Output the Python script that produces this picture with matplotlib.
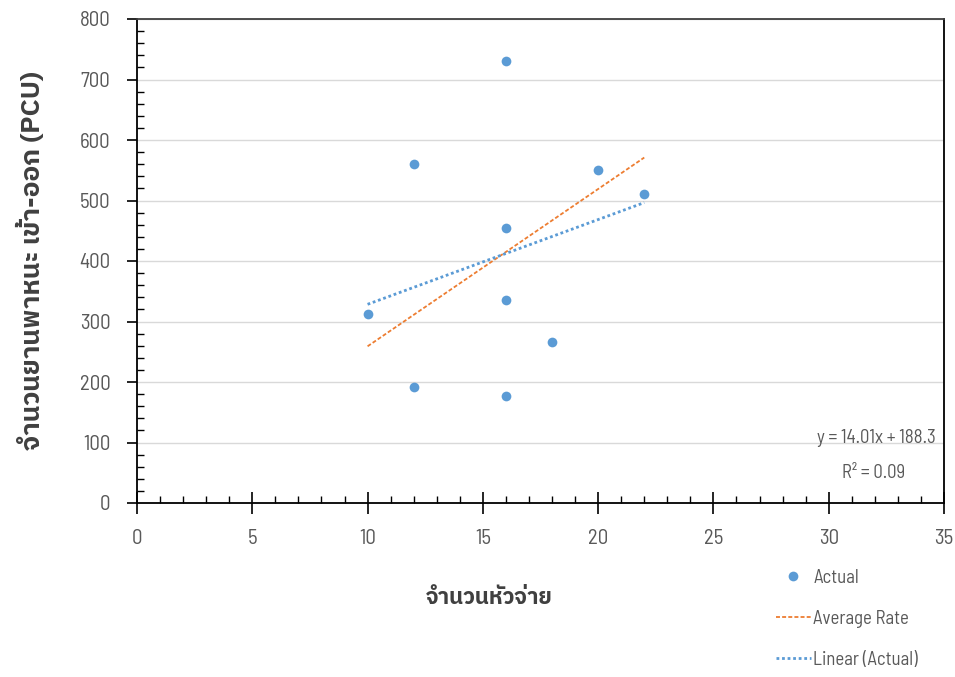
import matplotlib
matplotlib.use('Agg')
import matplotlib.pyplot as plt
from matplotlib.ticker import MultipleLocator

# number of dispensers vs vehicles in/out (PCU)
dispensers = [10, 12, 12, 16, 16, 16, 16, 18, 20, 22]
vehicles_pcu = [313, 561, 191, 731, 454, 335, 177, 266, 551, 510]

# end points of the two fitted lines
avg_rate_x = [10, 22]
avg_rate_y = [259, 571]
trend_x = [10, 22]
trend_y = [328.4, 496.5]

equation = 'y = 14.01x + 188.3'
r_squared = 'R² = 0.09'

x_label = 'จำนวนหัวจ่าย'
y_label = 'จำนวนยานพาหนะ เข้า-ออก (PCU)'

thai = ['IBM Plex Sans Thai', 'Noto Sans Thai', 'DejaVu Sans']
narrow = ['Barlow Semi Condensed', 'Noto Sans', 'DejaVu Sans']
plt.rcParams['font.family'] = narrow

blue = '#5B9BD5'
orange = '#ED7D31'
text_grey = '#595959'

fig = plt.figure(figsize=(9.55, 6.77), dpi=100)
ax = fig.add_axes([137 / 955, 1 - 503 / 677, (944 - 137) / 955, (503 - 19) / 677])

ax.yaxis.grid(True, color='#d9d9d9', linewidth=1.0)
ax.set_axisbelow(True)

pts, = ax.plot(dispensers, vehicles_pcu, 'o', color=blue, markersize=7,
               markeredgewidth=0, label='Actual', zorder=3)
avg, = ax.plot(avg_rate_x, avg_rate_y, linestyle=(0, (2.2, 1.2)), color=orange,
               linewidth=1.3, label='Average Rate', zorder=2)
lin, = ax.plot(trend_x, trend_y, linestyle=(0, (1, 1)), color=blue,
               linewidth=2.0, label='Linear (Actual)', zorder=2)

ax.set_xlim(0, 35)
ax.set_ylim(0, 800)
ax.xaxis.set_major_locator(MultipleLocator(5))
ax.xaxis.set_minor_locator(MultipleLocator(1))
ax.yaxis.set_major_locator(MultipleLocator(100))
ax.yaxis.set_minor_locator(MultipleLocator(20))

ax.tick_params(axis='x', which='major', direction='inout', length=16, width=1.2,
               labelsize=15, pad=11, color='black', labelcolor=text_grey)
ax.tick_params(axis='x', which='minor', direction='in', length=5, width=1.0)
ax.tick_params(axis='y', which='major', direction='out', length=7, width=1.2,
               labelsize=15, pad=12, color='black', labelcolor=text_grey)
ax.tick_params(axis='y', which='minor', direction='in', length=5, width=1.0)

for side in ['left', 'bottom', 'right', 'top']:
    ax.spines[side].set_linewidth(1.3)
ax.spines['top'].set_color('#404040')

ax.text(0.990, 0.134, equation, transform=ax.transAxes, ha='right', va='center',
        fontsize=13.5, color=text_grey)
ax.text(0.952, 0.062, r_squared, transform=ax.transAxes, ha='right', va='center',
        fontsize=13.5, color=text_grey)

fig.text(489 / 955, 1 - 598 / 677, x_label, ha='center', va='center',
         fontsize=16, fontweight='bold', family=thai, color='#404040')
fig.text(31 / 955, 1 - 260 / 677, y_label, ha='center', va='center', rotation=90,
         fontsize=19, fontweight='bold', family=thai, color='#404040')

fig.legend(handles=[pts, avg, lin], loc='upper left',
           bbox_to_anchor=(759 / 955, 1 - 552 / 677), frameon=False,
           fontsize=13.5, handlelength=1.85, handletextpad=0.15,
           labelspacing=1.22, labelcolor=text_grey)

fig.savefig('out.png', dpi=100)
